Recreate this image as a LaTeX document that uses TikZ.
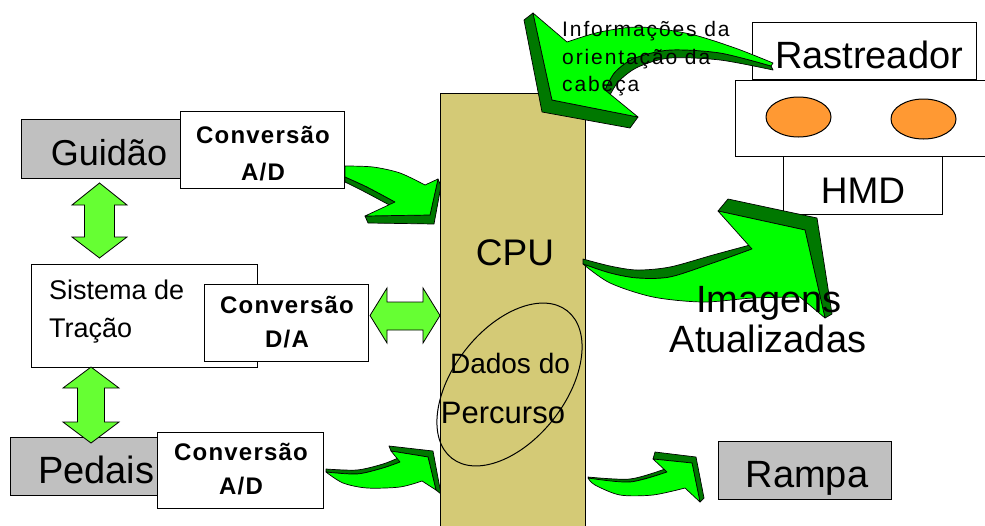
\documentclass[tikz,border=0pt]{standalone}
\usepackage{fontspec}
\setmainfont{Liberation Sans}
\newcommand{\fsz}[1]{\fontsize{#1}{#1}\selectfont}
\newcommand{\convfont}{\fontsize{24}{24}\selectfont\bfseries\addfontfeature{LetterSpace=5}}
\newcommand{\infofont}{\fontsize{21}{21}\selectfont\addfontfeature{LetterSpace=9}}
\definecolor{cpufill}{RGB}{212,202,118}
\definecolor{grayfill}{RGB}{192,192,192}
\definecolor{agreen}{RGB}{0,255,0}
\definecolor{adark}{RGB}{0,120,0}
\definecolor{dgreen}{RGB}{102,255,51}
\definecolor{orangefill}{RGB}{255,153,51}
\begin{document}
\begin{tikzpicture}[x=1pt,y=-1pt,
  plainbox/.style={draw=black, line width=1.3pt, fill=white, inner sep=0pt, anchor=north west},
  graybox/.style={plainbox, fill=grayfill},
  txt/.style={inner sep=0pt, anchor=base},
  txtl/.style={inner sep=0pt, anchor=base west},
  arrfront/.style={fill=agreen, draw=black, line width=0.7pt, line join=round},
  arrside/.style={fill=adark, draw=black, line width=0.7pt, line join=round},
  dbl/.style={fill=dgreen, draw=black, line width=0.8pt}]
\useasboundingbox (0,0) rectangle (985,525);

% left boxes
\node[graybox, minimum width=159, minimum height=59] (guidao) at (21,119) {};
\node[txt] (tguidao) at (109,165) {\fsz{36}Guidão};
\node[plainbox, minimum width=226, minimum height=103] (sistema) at (31,264) {};
\node[txtl] (tsis1) at (49,299) {\fsz{27}Sistema de};
\node[txtl] (tsis2) at (49,337) {\fsz{27}Tração};
\node[graybox, minimum width=147, minimum height=58] (pedais) at (10,437) {};
\node[txtl] (tpedais) at (38,483) {\fsz{38}Pedais};

\node[plainbox, minimum width=164, minimum height=77] (conv1) at (180,111) {};
\node[txt] (tc1a) at (263,143) {\convfont Conversão};
\node[txt] (tc1b) at (263,180) {\convfont A/D};
\node[plainbox, minimum width=164, minimum height=77] (conv2) at (204,284) {};
\node[txt] (tc2a) at (287,313) {\convfont Conversão};
\node[txt] (tc2b) at (287,347) {\convfont D/A};
\node[plainbox, minimum width=166, minimum height=76] (conv3) at (157,432) {};
\node[txt] (tc3a) at (241,460) {\convfont Conversão};
\node[txt] (tc3b) at (241,494) {\convfont A/D};

% double arrows
\draw[dbl] (99.5,183) -- (127,205) -- (114.5,205) -- (114.5,237) -- (127,237) -- (99.5,258)
  -- (72,237) -- (84.5,237) -- (84.5,205) -- (72,205) -- cycle;
\draw[dbl] (91,367) -- (119,388) -- (104.5,388) -- (104.5,422) -- (119,422) -- (91,443)
  -- (63,422) -- (77.5,422) -- (77.5,388) -- (63,388) -- cycle;
\draw[dbl] (370,315.5) -- (387,288) -- (387,302) -- (423,302) -- (423,288) -- (440,315.5)
  -- (423,343) -- (423,330) -- (387,330) -- (387,343) -- cycle;

% arrow A (Guidao -> CPU)
\draw[arrside] plot[smooth] coordinates {(345,177) (367,187) (395,202)} -- (393,207)
  -- plot[smooth] coordinates {(393,207) (365,192) (345,182)} -- cycle;
\draw[arrside] (365,216) -- (368,223) -- (434,224) -- (441,186) -- (438,179) -- (430,215) -- cycle;
\draw[arrfront] plot[smooth] coordinates {(345,166) (373,167) (400,173) (425,185)}
  -- (438,179) -- (430,215) -- (365,216) -- (395,202)
  -- plot[smooth] coordinates {(395,202) (367,187) (345,177)} -- cycle;

% arrow B (Pedais -> CPU)
\draw[arrside] plot[smooth] coordinates {(326,472) (357,474) (383,468) (400,462)} -- (398,458)
  -- plot[smooth] coordinates {(398,458) (383,464) (357,470) (326,469)} -- cycle;
\draw[arrside] (391,451) -- (389,446) -- (433,451) -- (441,494) -- (436,490) -- (428,457) -- cycle;
\draw[arrfront] plot[smooth] coordinates {(326,472) (357,474) (383,468) (400,462)}
  -- (391,451) -- (428,457) -- (436,490) -- (422,481)
  -- plot[smooth] coordinates {(422,481) (400,487) (367,488) (343,483) (326,472)} -- cycle;

% CPU
\node[plainbox, fill=cpufill, minimum width=145, minimum height=440] (cpu) at (440,93) {};
\draw[line width=1pt, rotate around={-38:(509.5,384.5)}] (509.5,384.5) ellipse [x radius=56, y radius=93.6];
\node[txt] (tcpu) at (515,265) {\fsz{37}CPU};
\node[txt] (tdados) at (510,373) {\fsz{28}Dados do};
\node[txt] (tperc) at (503,423) {\fsz{31}Percurso};

% right boxes
\node[plainbox, minimum width=224, minimum height=57] (rastreador) at (752,22) {};
\node[txt] (trast) at (869,68) {\fsz{38}Rastreador};
\node[plainbox, minimum width=260, minimum height=76] (oculos) at (735,80) {};
\draw[line width=1pt, fill=orangefill] (798.5,117) ellipse [x radius=32.5, y radius=20];
\draw[line width=1pt, fill=orangefill] (923.5,119) ellipse [x radius=32.5, y radius=20];
\node[plainbox, minimum width=159, minimum height=58] (hmd) at (783,156) {};
\node[txt] (thmd) at (863,203) {\fsz{37}HMD};

% arrow C (Rastreador -> CPU)
\draw[arrside] plot[smooth] coordinates {(771,66) (720,53) (670,50) (635,58) (615,72) (605,90)} -- (610,95)
  -- plot[smooth] coordinates {(610,95) (619,81) (638,67) (670,58) (720,60) (773,70)} -- cycle;
\draw[arrside] (533,13) -- (524,20) -- (542,112) -- (630,128) -- (638,117) -- (552,100) -- cycle;
\draw[arrfront] (533,13) -- (567,42)
  -- plot[smooth] coordinates {(567,42) (600,32) (640,27) (690,34) (735,48) (773,63)}
  -- (771,66)
  -- plot[smooth] coordinates {(771,66) (720,53) (670,50) (635,58) (615,72) (605,90)}
  -- (638,117) -- (552,100) -- cycle;
\node[txtl] (tinfo1) at (562,36) {\infofont Informações da};
\node[txtl] (tinfo2) at (562,64) {\infofont orientação da};
\node[txtl] (tinfo3) at (562,91) {\infofont cabeça};

% arrow D (CPU -> Imagens)
\draw[arrside] plot[smooth] coordinates {(583,259) (610,266) (637,270) (670,267) (713,255) (750,245)} -- (752,249)
  -- plot[smooth] coordinates {(752,249) (713,263) (670,277) (637,278) (610,273) (583,264)} -- cycle;
\draw[arrside] (718,211) -- (728,199) -- (817,218) -- (832,314) -- (825,318) -- (805,230) -- cycle;
\draw[arrfront] plot[smooth] coordinates {(583,264) (610,273) (637,278) (670,277) (713,263) (752,249)}
  -- (718,211) -- (805,230) -- (825,318) -- (800,297)
  -- plot[smooth] coordinates {(800,297) (753,298) (703,302) (653,297) (610,283) (583,264)} -- cycle;
\node[txt] (timg1) at (769,312) {\fsz{38}Imagens};
\node[txt] (timg2) at (768,352) {\fsz{38}Atualizadas};

% arrow E (CPU -> Rampa)
\draw[arrside] plot[smooth] coordinates {(588,477) (630,479) (665,469)} -- (667,472)
  -- plot[smooth] coordinates {(667,472) (630,482) (590,480)} -- cycle;
\draw[arrside] (653,459) -- (655,452) -- (696,457) -- (704,498) -- (700,502) -- (692,463) -- cycle;
\draw[arrfront] plot[smooth] coordinates {(588,478) (630,482) (667,472)}
  -- (653,459) -- (692,463) -- (700,502) -- (685,488)
  -- plot[smooth] coordinates {(685,488) (653,495) (620,495) (595,485) (588,478)} -- cycle;

\node[graybox, minimum width=173, minimum height=58] (rampa) at (718,441) {};
\node[txt] (trampa) at (807,487) {\fsz{38}Rampa};
\end{tikzpicture}
\end{document}
